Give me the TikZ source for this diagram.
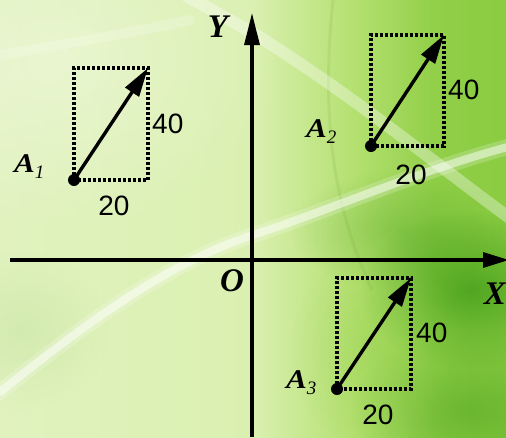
\documentclass[tikz,border=0pt]{standalone}
\usepackage{fontspec}
\setmainfont{Liberation Serif}
\newfontfamily\numfont{Liberation Sans}
\usetikzlibrary{arrows.meta,fadings}
\definecolor{bgA}{RGB}{232,245,206}
\definecolor{bgB}{RGB}{218,240,176}
\definecolor{bgC}{RGB}{180,224,112}
\definecolor{bgD}{RGB}{145,207,72}
\definecolor{bgE}{RGB}{112,192,44}
\definecolor{deep}{RGB}{40,140,8}
\definecolor{tint}{RGB}{196,226,160}
\pgfdeclarehorizontalshading{bgsh}{100bp}{color(0bp)=(bgA); color(50bp)=(bgB); color(60bp)=(bgC); color(68bp)=(bgD); color(100bp)=(bgE)}
\tikzfading[name=softfade, inner color=transparent!0, outer color=transparent!100]
\tikzset{
  vec/.style={line width=3.4pt, -{Triangle[length=29pt,width=16pt]}},
  axis/.style={line width=3.2pt},
  dotbox/.style={line width=3.2pt, dash pattern=on 3pt off 2pt},
  pt/.style={circle, fill=black, inner sep=0pt, minimum size=12pt},
  num/.style={font=\numfont\fontsize{28}{28}\selectfont, inner sep=0pt},
  lab/.style={font=\fontsize{27}{27}\selectfont\bfseries\itshape, inner sep=0pt, anchor=base west},
  axlab/.style={font=\fontsize{33}{33}\selectfont\bfseries\itshape, inner sep=0pt},
  streak/.style={white, line cap=round}
}
\newcommand{\sublab}[2]{\scalebox{1.15}[1]{#1}\raisebox{-6pt}{\fontsize{19}{19}\selectfont\mdseries #2}}
\begin{document}
\begin{tikzpicture}[x=1pt,y=-1pt]
\useasboundingbox (0,0) rectangle (506,437);
\clip (0,0) rectangle (506,437);
% background
\shade[shading=bgsh] (0,0) rectangle (506,437);
\fill[white, opacity=0.3, path fading=softfade] (60,60) ellipse[x radius=220pt, y radius=170pt];
\fill[deep, opacity=0.6, path fading=softfade] (470,290) ellipse[x radius=110pt, y radius=80pt];
\fill[deep, opacity=0.35, path fading=softfade] (470,410) ellipse[x radius=120pt, y radius=80pt];
\fill[deep, opacity=0.25, path fading=softfade] (400,230) ellipse[x radius=110pt, y radius=60pt];
\fill[bgD, opacity=0.35, path fading=softfade] (380,350) ellipse[x radius=90pt, y radius=100pt];
\fill[tint, opacity=0.5, path fading=softfade] (20,330) ellipse[x radius=90pt, y radius=80pt];
\draw[bgD!80!black, opacity=0.15, line width=3pt] (333,0) .. controls (322,110) and (330,200) .. (372,290);
\draw[streak, opacity=0.35, line width=12pt] (185,-5) -- (253,33) .. controls (360,100) and (430,160) .. (515,222);
\draw[streak, opacity=0.5, line width=8pt] (0,392) .. controls (90,320) and (170,262) .. (253,235) .. controls (330,210) and (420,170) .. (515,145);
\draw[streak, opacity=0.2, line width=16pt] (0,392) .. controls (90,320) and (170,262) .. (253,235) .. controls (330,210) and (420,170) .. (515,145);
\draw[streak, opacity=0.2, line width=10pt] (0,55) .. controls (60,45) and (120,35) .. (190,20);

% axes
\coordinate (xs) at (10,260);
\coordinate (xe) at (509,260);
\coordinate (ys) at (252,437);
\coordinate (ye) at (252,13);
\draw[axis, -{Triangle[length=26pt,width=15pt]}] (xs) -- (xe);
\draw[axis, -{Triangle[length=32pt,width=15pt]}] (ys) -- (ye);
\node[axlab] (Y) at (218,27) {Y};
\node[axlab] (O) at (232,281) {O};
\node[axlab, anchor=east] (X) at (506,294) {X};

% vector A1
\coordinate (a1) at (74,180);
\coordinate (b1) at (148,68);
\draw[dotbox] (a1) rectangle (b1);
\draw[vec] (a1) -- (b1);
\node[pt] (p1) at (a1) {};
\node[num, anchor=west] (h1) at (152,124) {40};
\node[num] (w1) at (114,206) {20};
\node[lab] (l1) at (14,172) {\sublab{A}{1}};

% vector A2
\coordinate (a2) at (371,146);
\coordinate (b2) at (444,35);
\draw[dotbox] (a2) rectangle (b2);
\draw[vec] (a2) -- (b2);
\node[pt] (p2) at (a2) {};
\node[num, anchor=west] (h2) at (448,90) {40};
\node[num] (w2) at (411,175) {20};
\node[lab] (l2) at (306,137) {\sublab{A}{2}};

% vector A3
\coordinate (a3) at (337,389);
\coordinate (b3) at (411,278);
\draw[dotbox] (a3) rectangle (b3);
\draw[vec] (a3) -- (b3);
\node[pt] (p3) at (a3) {};
\node[num, anchor=west] (h3) at (416,333) {40};
\node[num] (w3) at (378,415) {20};
\node[lab] (l3) at (286,388) {\sublab{A}{3}};
\end{tikzpicture}
\end{document}
